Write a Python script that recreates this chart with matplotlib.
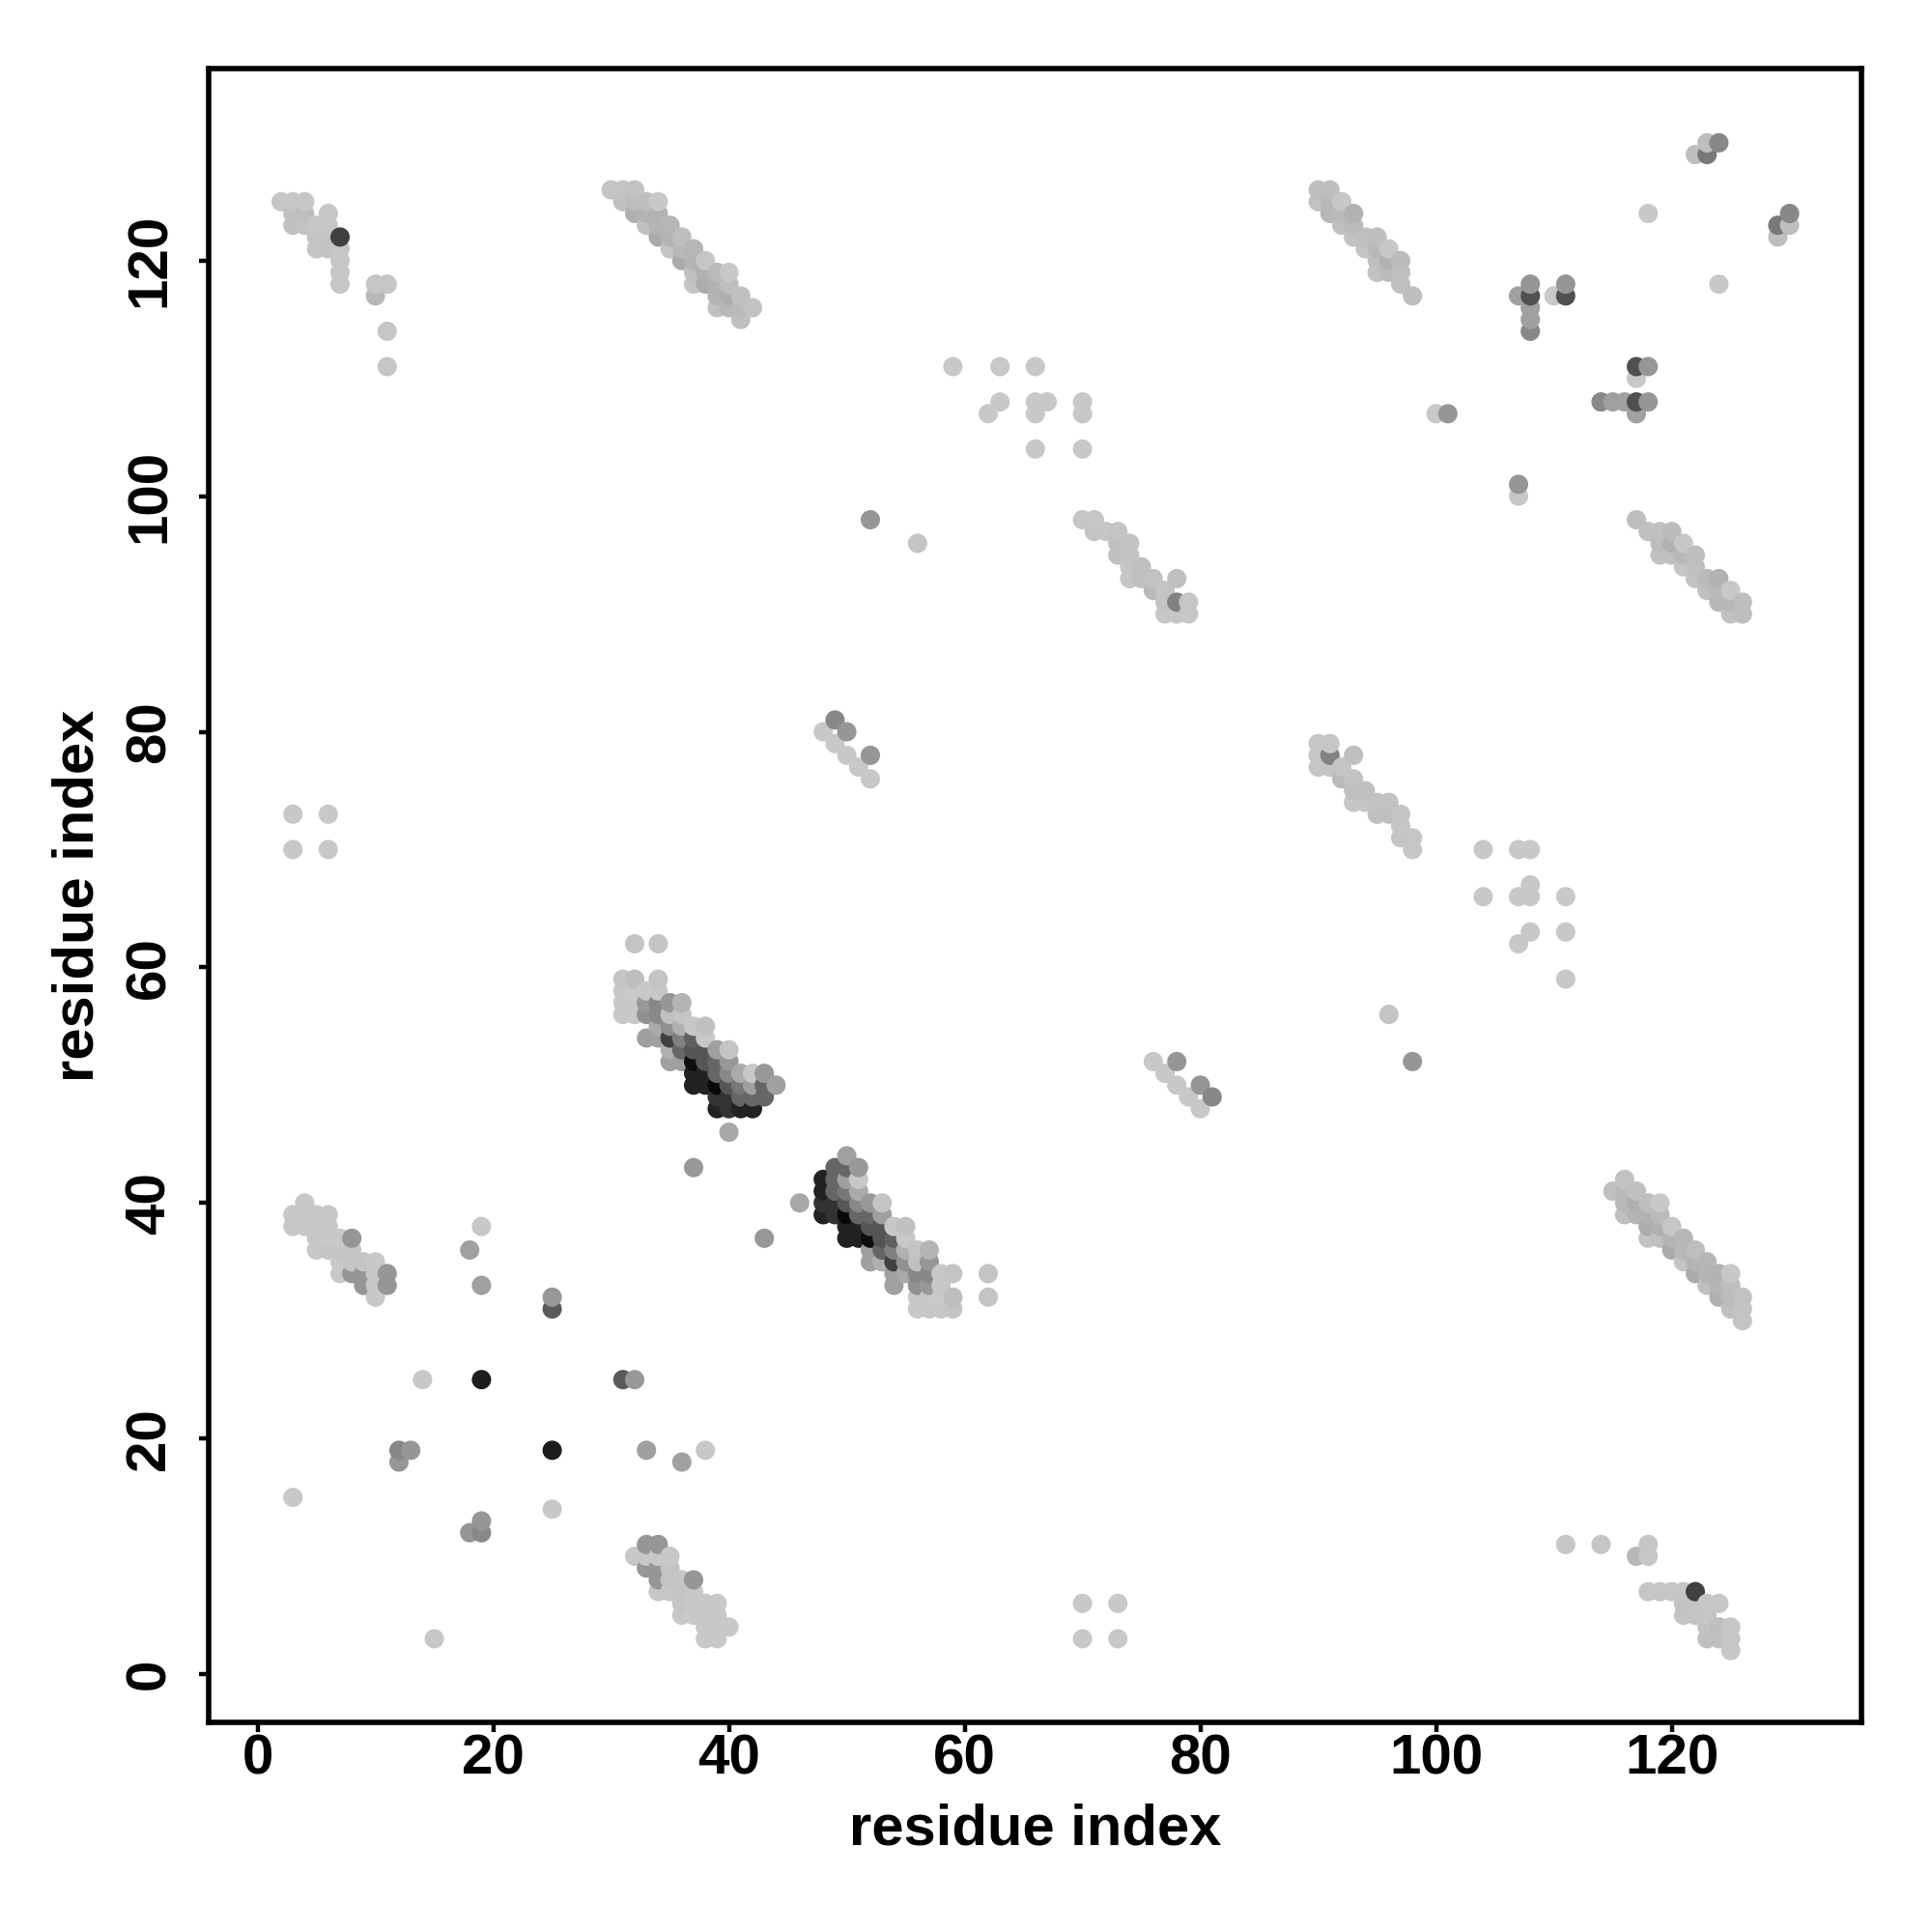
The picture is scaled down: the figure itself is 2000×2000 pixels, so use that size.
import numpy as np
import matplotlib
matplotlib.use('Agg')
import matplotlib.pyplot as plt

plt.rcParams['font.family'] = ['Liberation Sans', 'DejaVu Sans']
plt.rcParams['font.weight'] = 'bold'

# contacts as (i, j, gray level), only i < j, the map is symmetric
helix_a = [
    (2, 125, 198), (3, 125, 198), (4, 125, 198), (3, 124, 192), (4, 124, 190), (6, 124, 198),
    (3, 123, 192), (4, 123, 194), (5, 123, 198), (6, 123, 198), (5, 122, 196), (6, 122, 196),
    (7, 122, 64), (5, 121, 196), (6, 121, 194), (7, 121, 198), (7, 120, 198), (7, 119, 198),
    (7, 118, 198), (10, 118, 198), (11, 118, 198), (10, 117, 184), (11, 114, 198), (11, 111, 198),
]
helix_b = [
    (30, 126, 196), (31, 126, 196), (32, 126, 194), (31, 125, 192), (32, 125, 188), (33, 125, 190),
    (34, 125, 200), (32, 124, 176), (33, 124, 180), (34, 124, 178), (33, 123, 192), (34, 123, 180),
    (35, 123, 182), (34, 122, 170), (35, 122, 180), (36, 122, 190), (35, 121, 196), (36, 121, 184),
    (37, 121, 182), (36, 120, 170), (37, 120, 180), (38, 120, 198), (37, 119, 192), (38, 119, 176),
    (39, 119, 186), (40, 119, 200), (37, 118, 196), (38, 118, 172), (39, 118, 178), (40, 118, 190),
    (39, 117, 180), (40, 117, 174), (41, 117, 192), (39, 116, 192), (40, 116, 184), (41, 116, 186),
    (42, 116, 194), (41, 115, 192),
]
helix_c = [
    (90, 126, 190), (91, 126, 190), (90, 125, 194), (91, 125, 184), (92, 125, 200), (91, 124, 182),
    (92, 124, 186), (93, 124, 178), (92, 123, 192), (93, 123, 186), (93, 122, 194), (94, 122, 192),
    (95, 122, 190), (94, 121, 196), (95, 121, 184), (96, 121, 200), (95, 120, 192), (96, 120, 178),
    (97, 120, 188), (95, 119, 194), (96, 119, 188), (97, 119, 192), (97, 118, 192), (98, 117, 190),
]
helix_d = [
    (70, 98, 198), (71, 98, 198), (71, 97, 196), (72, 97, 198), (73, 97, 196), (73, 96, 192),
    (74, 96, 194), (73, 95, 192), (74, 95, 194), (74, 94, 198), (75, 94, 192), (74, 93, 198),
    (75, 93, 192), (76, 93, 194), (78, 93, 192), (76, 92, 186), (77, 92, 196), (77, 91, 196),
    (78, 91, 130), (79, 91, 198), (77, 90, 198), (78, 90, 198), (79, 90, 198),
]
helix_e = [
    (31, 59, 196), (32, 59, 190), (34, 59, 196), (31, 58, 200), (32, 58, 202), (33, 58, 200),
    (34, 58, 200), (31, 57, 200), (32, 57, 200), (33, 57, 152), (34, 57, 136), (35, 57, 150),
    (36, 57, 180), (31, 56, 200), (32, 56, 200), (33, 56, 144), (34, 56, 136), (35, 56, 192),
    (36, 56, 196), (34, 55, 170), (35, 55, 144), (36, 55, 176), (37, 55, 200), (38, 55, 192),
    (33, 54, 160), (34, 54, 160), (35, 54, 64), (36, 54, 128), (37, 54, 96), (38, 54, 200),
    (35, 53, 176), (36, 53, 102), (37, 53, 85), (38, 53, 85), (39, 53, 160), (40, 53, 196),
    (35, 52, 160), (36, 52, 160), (37, 52, 14), (38, 52, 85), (39, 52, 102), (40, 52, 152),
    (37, 51, 34), (38, 51, 34), (39, 51, 102), (40, 51, 136), (41, 51, 170), (42, 51, 200),
    (43, 51, 152), (37, 50, 34), (38, 50, 34), (39, 50, 8), (40, 50, 85), (41, 50, 119),
    (42, 50, 160), (43, 50, 102), (44, 50, 160), (39, 49, 51), (40, 49, 51), (41, 49, 102),
    (42, 49, 102), (43, 49, 102), (39, 48, 34), (40, 48, 51), (41, 48, 34), (42, 48, 34),
    (40, 46, 168), (37, 43, 152), (32, 62, 196), (34, 62, 196),
]
helix_g = [
    (4, 40, 200), (3, 39, 200), (4, 39, 200), (5, 39, 200), (6, 39, 200), (3, 38, 200),
    (4, 38, 200), (5, 38, 200), (6, 38, 200), (5, 37, 200), (6, 37, 200), (7, 37, 200),
    (8, 37, 150), (5, 36, 200), (6, 36, 196), (7, 36, 196), (8, 36, 198), (7, 35, 200),
    (8, 35, 196), (9, 35, 196), (10, 35, 200), (7, 34, 200), (8, 34, 150), (9, 34, 150),
    (10, 34, 200), (11, 34, 150), (9, 33, 150), (10, 33, 200), (11, 33, 150), (10, 32, 200),
]
scattered = [
    (3, 15, 200), (3, 70, 200), (3, 73, 200), (6, 70, 200), (6, 73, 200), (12, 18, 150),
    (12, 19, 136), (13, 19, 150), (14, 25, 200), (18, 36, 160), (19, 25, 28), (19, 33, 160),
    (19, 38, 200), (25, 31, 90), (25, 32, 152), (48, 80, 200), (49, 81, 136), (50, 80, 150),
    (49, 79, 200), (50, 78, 200), (51, 77, 200), (52, 76, 200), (52, 78, 150), (52, 98, 150),
    (56, 96, 196), (59, 111, 200), (62, 107, 200), (63, 108, 200), (63, 111, 200), (66, 104, 200),
    (66, 107, 200), (66, 108, 200), (66, 111, 200), (67, 108, 200), (70, 104, 200), (70, 107, 200),
    (70, 108, 200), (100, 107, 200), (101, 107, 150), (107, 117, 160), (108, 114, 136),
    (108, 115, 160), (108, 116, 160), (108, 117, 80), (108, 118, 150), (110, 117, 200),
    (111, 117, 80), (111, 118, 150), (118, 124, 200), (122, 129, 190), (123, 129, 120),
    (123, 130, 190), (124, 130, 136),
]
x_ticks = [0, 20, 40, 60, 80, 100, 120]

contacts = np.array(helix_a + helix_b + helix_c + helix_d + helix_e + helix_g + scattered)
i = np.concatenate([contacts[:, 0], contacts[:, 1]])
j = np.concatenate([contacts[:, 1], contacts[:, 0]])
level = np.concatenate([contacts[:, 2], contacts[:, 2]])
order = np.lexsort((j, i))

fig = plt.figure(figsize=(10, 10), dpi=200)
ax = fig.add_axes([216 / 2000, 217 / 2000, 1711 / 2000, 1712 / 2000])
ax.scatter(i[order], j[order], c=level[order], cmap='gray', vmin=0, vmax=255, s=52, linewidths=0)
ax.set_xlim(-4.15, 136.1)
ax.set_ylim(-4.1, 136.3)
ax.set_xticks(x_ticks)
ax.set_yticks(x_ticks)
ax.tick_params(axis='x', length=3.6, width=1.6, labelsize=21, pad=0.5)
ax.tick_params(axis='y', length=3.6, width=1.6, labelsize=21, pad=8.5)
plt.setp(ax.get_yticklabels(), rotation=90, va='center')
ax.set_xlabel('residue index', fontsize=21.5, fontweight='bold', labelpad=6.5)
ax.set_ylabel('residue index', fontsize=21.5, fontweight='bold', labelpad=7)
for s in ax.spines.values():
    s.set_linewidth(2.0)
fig.savefig('out.png', dpi=200)
